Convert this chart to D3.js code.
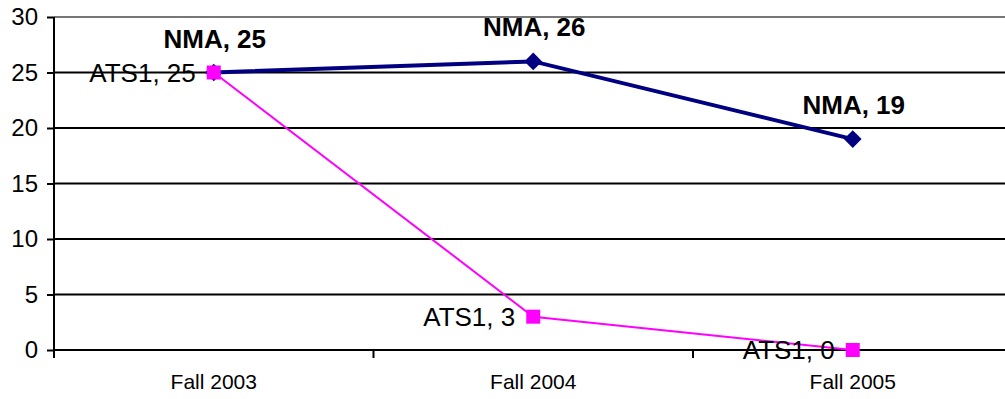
<!DOCTYPE html>
<html><head><meta charset="utf-8">
<script src="https://cdn.jsdelivr.net/npm/d3@7"></script>
<style>body{margin:0;background:#fff}svg{display:block}text{font-family:Arial,"Liberation Sans",sans-serif}</style>
</head><body><svg id="c" width="1005" height="399"></svg>
<script>
const categories = ["Fall 2003","Fall 2004","Fall 2005"];
const nmaValues = [25,26,19];
const atsValues = [25,3,0];
const yTicks = [0,5,10,15,20,25,30];
const seriesNames = ["NMA","ATS1"];

(function(){
const svg = d3.select("#c");
const pl = 54, pt = 17, pb = 350, band = 319.5;
const x = d3.scaleBand().domain(categories).range([pl, pl + band*categories.length]);
const y = d3.scaleLinear().domain([0,30]).range([pb, pt]);
const cx = c => x(c) + x.bandwidth()/2;
const ff = "Arial, Liberation Sans, sans-serif";

svg.append("g").selectAll("line").data(yTicks).join("line")
  .attr("x1", pl).attr("x2", 1005)
  .attr("y1", d=>y(d)).attr("y2", d=>y(d))
  .attr("stroke", d => d===30 ? "#777" : "#000").attr("stroke-width", 2);

const ya = svg.append("g").attr("transform",`translate(${pl},0)`)
  .call(d3.axisLeft(y).tickValues(yTicks).tickSize(7).tickPadding(9));
ya.attr("font-size",null).attr("font-family",null);
ya.select(".domain").attr("stroke","#000").attr("stroke-width",2).attr("d",`M0,${pt}V${pb+8}`);
ya.selectAll(".tick line").attr("stroke","#000").attr("stroke-width",2);
ya.selectAll(".tick text").style("font-size","24px").attr("fill","#000").style("font-family",ff);

const xa = svg.append("g").attr("transform",`translate(0,${pb})`)
  .call(d3.axisBottom(x).tickSize(0).tickPadding(0));
xa.attr("font-size",null).attr("font-family",null);
xa.select(".domain").remove();
xa.selectAll(".tick text").attr("dy",null).attr("y",39).style("font-size","21px").attr("fill","#000").style("font-family",ff);
const bounds = d3.range(categories.length+1).map(i => pl + i*band);
svg.append("g").selectAll("line").data(bounds.slice(1)).join("line")
  .attr("x1",d=>d).attr("x2",d=>d).attr("y1",pb).attr("y2",pb+8)
  .attr("stroke","#000").attr("stroke-width",2);

const line = d3.line().x((d,i)=>cx(categories[i])).y(d=>y(d));

svg.append("path").datum(atsValues).attr("d",line).attr("fill","none").attr("stroke","#ff00ff").attr("stroke-width",2);
svg.append("path").datum(nmaValues).attr("d",line).attr("fill","none").attr("stroke","#000080").attr("stroke-width",4);

svg.append("g").selectAll("path").data(nmaValues).join("path")
  .attr("d", d3.symbol(d3.symbolDiamond2, 200)())
  .attr("transform",(d,i)=>`translate(${cx(categories[i])},${y(d)})`)
  .attr("fill","#000080");
svg.append("g").selectAll("rect").data(atsValues).join("rect")
  .attr("x",(d,i)=>cx(categories[i])-7).attr("y",d=>y(d)-7)
  .attr("width",14).attr("height",14).attr("fill","#ff00ff");

svg.append("g").selectAll("text").data(nmaValues).join("text")
  .attr("x",(d,i)=>cx(categories[i])+1).attr("y",d=>y(d)-25)
  .attr("text-anchor","middle").style("font-size","26px").attr("font-weight","bold")
  .text(d=>`${seriesNames[0]}, ${d}`);
svg.append("g").selectAll("text").data(atsValues).join("text")
  .attr("x",(d,i)=>cx(categories[i])-18).attr("y",d=>y(d)+9)
  .attr("text-anchor","end").style("font-size","26px")
  .text(d=>`${seriesNames[1]}, ${d}`);
})();
</script></body></html>
